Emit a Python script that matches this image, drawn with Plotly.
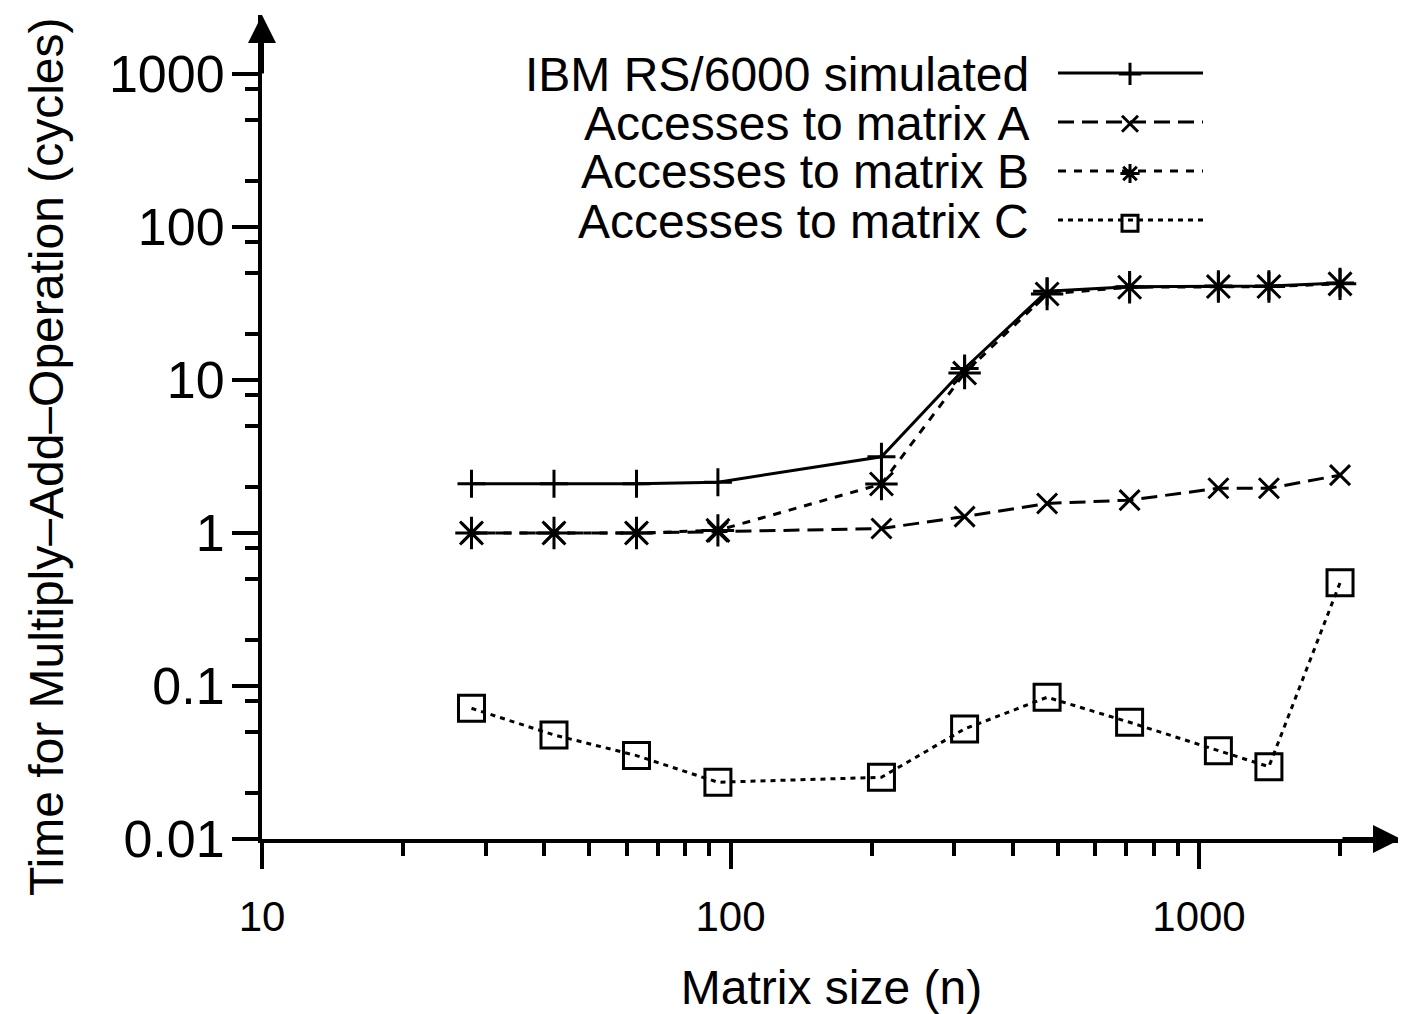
import plotly.graph_objects as go

# ---- data ----
matrix_size = [28, 42, 63, 94, 210, 316, 474, 711, 1100, 1410, 2000]
ibm_simulated = [2.1, 2.1, 2.1, 2.15, 3.15, 11.9, 38.0, 40.7, 41.1, 41.1, 43.0]
access_a = [1.0, 1.0, 1.0, 1.02, 1.07, 1.28, 1.56, 1.64, 1.96, 1.96, 2.39]
access_b = [1.0, 1.0, 1.0, 1.04, 2.09, 11.1, 36.5, 40.4, 40.8, 40.8, 42.5]
access_c = [0.0715, 0.0479, 0.0351, 0.0235, 0.0253, 0.0524, 0.0844, 0.0579, 0.0378, 0.0297, 0.473]

series_names = ["IBM RS/6000 simulated", "Accesses to matrix A",
                "Accesses to matrix B", "Accesses to matrix C"]

x_major_ticks = [10, 100, 1000]
x_major_text = ["10", "100", "1000"]
x_minor_ticks = [20, 30, 40, 50, 60, 70, 80, 90,
                 200, 300, 400, 500, 600, 700, 800, 900, 2000]
y_major_ticks = [0.01, 0.1, 1, 10, 100, 1000]
y_major_text = ["0.01", "0.1", "1", "10", "100", "1000"]
y_minor_ticks = [0.02, 0.05, 0.08, 0.2, 0.5, 0.8, 2, 5, 8, 20, 50, 80, 200, 500, 800]

x_title = "Matrix size (n)"
y_title = "Time for Multiply\u2013Add\u2013Operation (cycles)"

# ---- styles ----
FONT = "Liberation Sans, Arial, Helvetica, sans-serif"
styles = [
    dict(dash="solid", symbol="cross-thin-open", size=20),
    dict(dash="16px,8px", symbol="x-thin-open", size=20),
    dict(dash="8px,8px", symbol="asterisk-open", size=27),
    dict(dash="5px,5px", symbol="square-open", size=26),
]
values = [ibm_simulated, access_a, access_b, access_c]

# page has an 8px body margin: figure is placed at (8, 8) in the window
OFF = 8
W, H = 1406 - OFF, 1014 - OFF
L, T = 262 - OFF, 15 - OFF
R = W - (1401 - OFF)
B = H - (839 - OFF)
plot_w = W - L - R
plot_h = H - T - B


def px_x(xpage):
    return (xpage - OFF - L) / plot_w


def px_y(ypage):
    return ((H - B) - (ypage - OFF)) / plot_h


fig = go.Figure()
for name, vals, st in zip(series_names, values, styles):
    fig.add_trace(go.Scatter(
        x=matrix_size, y=vals, name=name, mode="lines+markers",
        line=dict(color="black", width=3, dash=st["dash"]),
        marker=dict(symbol=st["symbol"], size=st["size"], color="black",
                    line=dict(color="black", width=3)),
        showlegend=False,
    ))

# legend key markers (proxies without data; labels and key lines drawn in layout)
for name, st in zip(series_names, styles):
    fig.add_trace(go.Scatter(
        x=[None], y=[None], name="", mode="markers",
        marker=dict(symbol=st["symbol"], size=st["size"], color="black",
                    line=dict(color="black", width=3)),
        showlegend=True, hoverinfo="skip",
    ))

annotations = []
shapes = []
key_rows_px = [73, 122, 171, 220]
for name, ypx, st in zip(series_names, key_rows_px, styles):
    annotations.append(dict(
        text=name, xref="paper", yref="paper",
        x=px_x(1031), y=px_y(ypx + 1),
        xanchor="right", yanchor="middle", showarrow=False,
        font=dict(size=48, color="black", family=FONT),
    ))
    shapes.append(dict(
        type="line", xref="paper", yref="paper",
        x0=px_x(1058), x1=px_x(1203), y0=px_y(ypx), y1=px_y(ypx),
        line=dict(color="black", width=3, dash=st["dash"]),
    ))

# y axis title as rotated text (offset from the axis centre as in the reference)
annotations.append(dict(
    text=y_title, xref="paper", yref="paper", x=px_x(46), y=px_y(457),
    xanchor="center", yanchor="middle", textangle=-90, showarrow=False,
    font=dict(size=48, color="black", family=FONT),
))

# axis arrowheads
annotations.append(dict(xref="paper", yref="paper", x=1, y=0, ax=-60, ay=0,
                        text="", showarrow=True, arrowhead=2, arrowsize=1.4,
                        arrowwidth=4, arrowcolor="black", standoff=0))
annotations.append(dict(xref="paper", yref="paper", x=0, y=1, ax=0, ay=60,
                        text="", showarrow=True, arrowhead=2, arrowsize=1.4,
                        arrowwidth=4, arrowcolor="black", standoff=0))

axis_common = dict(
    type="log", showline=True, linecolor="black", linewidth=4, mirror=False,
    ticks="outside", ticklen=26, tickwidth=4, tickcolor="black",
    showgrid=False, zeroline=False, tickmode="array",
)

fig.update_layout(
    width=W, height=H,
    margin=dict(l=L, r=R, t=T, b=B),
    paper_bgcolor="white", plot_bgcolor="white",
    font=dict(family=FONT, color="black"),
    xaxis=dict(
        **axis_common,
        range=[1, 1 + plot_w / 468.5],
        tickvals=x_major_ticks, ticktext=x_major_text,
        tickfont=dict(size=42),
        ticklabelstandoff=12,
        minor=dict(tickmode="array", tickvals=x_minor_ticks, ticks="outside",
                   ticklen=13, tickwidth=4, tickcolor="black", showgrid=False),
        title=dict(text=x_title, font=dict(size=48), standoff=36),
    ),
    yaxis=dict(
        **axis_common,
        range=[-2, -2 + plot_h / 153.0],
        tickvals=y_major_ticks, ticktext=y_major_text,
        tickfont=dict(size=52),
        ticklabelstandoff=-3,
        minor=dict(tickmode="array", tickvals=y_minor_ticks, ticks="outside",
                   ticklen=13, tickwidth=4, tickcolor="black", showgrid=False),
    ),
    legend=dict(
        x=px_x(1110), y=px_y(44),
        xanchor="left", yanchor="top",
        bgcolor="rgba(0,0,0,0)", borderwidth=0,
        font=dict(size=36), tracegroupgap=0, itemsizing="trace",
    ),
    shapes=shapes,
    annotations=annotations,
)

fig.write_html("out.html")
